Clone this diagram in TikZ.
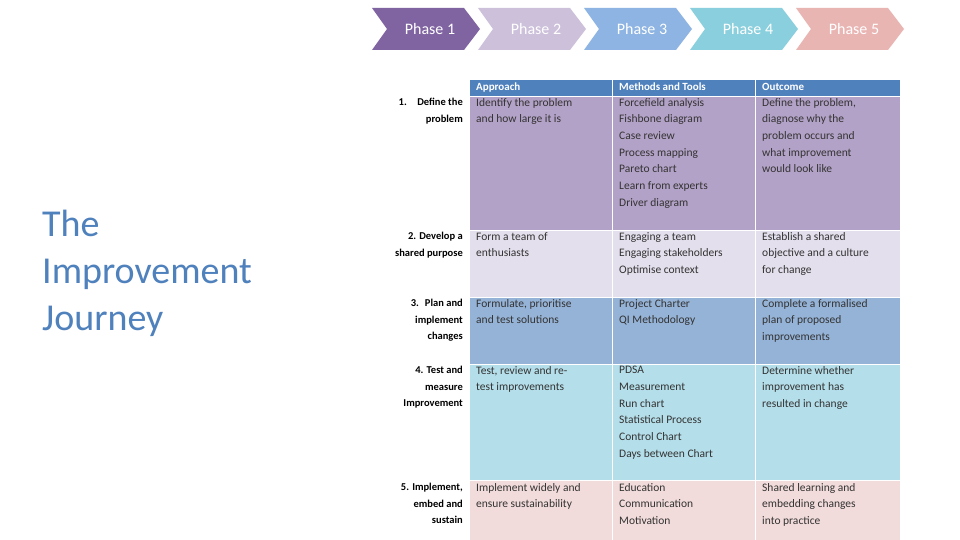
\documentclass[tikz,border=0pt]{standalone}
\usepackage{fontspec}
\setmainfont{Carlito}
\begin{document}
\begin{tikzpicture}[x=1pt,y=-1pt,
 cell/.style={anchor=north west,inner sep=0pt,align=left,font=\fontsize{11.5}{16.7}\selectfont,text=black!80},
 lab/.style={anchor=north east,inner sep=0pt,align=right,font=\bfseries\fontsize{10.5}{16.7}\selectfont},
 hd/.style={anchor=north west,inner sep=0pt,font=\bfseries\fontsize{11}{14}\selectfont,text=white},
 ph/.style={font=\fontsize{16}{18}\selectfont,text=white}]
\useasboundingbox (0,0) rectangle (960,540);
\fill[white] (0,0) rectangle (960,540);
% chevrons
\definecolor{p1}{HTML}{8064A2}\definecolor{p2}{HTML}{CCC0DA}\definecolor{p3}{HTML}{8DB4E2}
\definecolor{p4}{HTML}{8ACFDD}\definecolor{p5}{HTML}{E9B5B3}
\foreach \i/\c in {0/p1,1/p2,2/p3,3/p4,4/p5}{
 \pgfmathsetmacro\xa{372+106*\i}
 \fill[\c] (\xa,8) -- (\xa+92,8) -- (\xa+108,29) -- (\xa+92,50) -- (\xa,50) -- (\xa+15,29) -- cycle;
 \node[ph] (ph\i) at (\xa+58,29) {Phase \the\numexpr\i+1\relax};
}
% table
\definecolor{hdc}{HTML}{4F81BD}\definecolor{r1}{HTML}{B3A2C7}\definecolor{r2}{HTML}{E4DFEC}
\definecolor{r3}{HTML}{95B3D7}\definecolor{r4}{HTML}{B4DEE9}\definecolor{r5}{HTML}{F2DCDB}
\fill[hdc] (470,80) rectangle (900,97);
\fill[r1] (470,97) rectangle (900,230);
\fill[r2] (470,230) rectangle (900,297);
\fill[r3] (470,297) rectangle (900,364);
\fill[r4] (470,364) rectangle (900,480);
\fill[r5] (470,480) rectangle (900,540);
\foreach \y in {97,230,297,364,480} \draw[white,line width=1pt] (470,\y) -- (900,\y);
\foreach \x in {612,755} \draw[white,line width=1pt] (\x,80) -- (\x,540);
\node[hd] (h1) at (476,83) {Approach};
\node[hd] (h2) at (619,83) {Methods and Tools};
\node[hd] (h3) at (762,83) {Outcome};
% rows
\node[lab] (l1) at (463,98) {1.\quad Define the\\problem};
\node[cell] (a1) at (476,98) {Identify the problem\\and how large it is};
\node[cell] (m1) at (619,98) {Forcefield analysis\\Fishbone diagram\\Case review\\Process mapping\\Pareto chart\\Learn from experts\\Driver diagram};
\node[cell] (o1) at (762,98) {Define the problem,\\diagnose why the\\problem occurs and\\what improvement\\would look like};
\node[lab] (l2) at (463,232) {2. Develop a\\shared purpose};
\node[cell] (a2) at (476,232) {Form a team of\\enthusiasts};
\node[cell] (m2) at (619,232) {Engaging a team\\Engaging stakeholders\\Optimise context};
\node[cell] (o2) at (762,232) {Establish a shared\\objective and a culture\\for change};
\node[lab] (l3) at (463,299) {3.\; Plan and\\implement\\changes};
\node[cell] (a3) at (476,299) {Formulate, prioritise\\and test solutions};
\node[cell] (m3) at (619,299) {Project Charter\\QI Methodology};
\node[cell] (o3) at (762,299) {Complete a formalised\\plan of proposed\\improvements};
\node[lab] (l4) at (463,366) {4. Test and\\measure\\Improvement};
\node[cell] (a4) at (476,366) {Test, review and re-\\test improvements};
\node[cell] (m4) at (619,366) {PDSA\\Measurement\\Run chart\\Statistical Process\\Control Chart\\Days between Chart};
\node[cell] (o4) at (762,366) {Determine whether\\improvement has\\resulted in change};
\node[lab] (l5) at (463,483) {5. Implement,\\embed and\\sustain};
\node[cell] (a5) at (476,483) {Implement widely and\\ensure sustainability};
\node[cell] (m5) at (619,483) {Education\\Communication\\Motivation};
\node[cell] (o5) at (762,483) {Shared learning and\\embedding changes\\into practice};
% title
\node[anchor=north west,inner sep=0pt,align=left,text=hdc,font=\fontsize{38}{47}\selectfont] (title) at (42,210) {The\\Improvement\\Journey};
\end{tikzpicture}
\end{document}
